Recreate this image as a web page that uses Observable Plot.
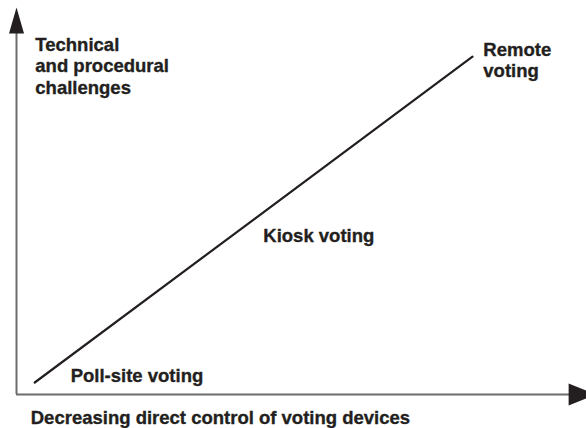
<!DOCTYPE html>
<html>
<head>
<meta charset="utf-8">
<script src="https://cdn.jsdelivr.net/npm/d3@7"></script>
<script src="https://cdn.jsdelivr.net/npm/@observablehq/plot@0.6"></script>
<style>
  html, body { margin: 0; padding: 0; background: #fff; }
  #chart svg { display: block; }
</style>
</head>
<body>
<div id="chart"></div>
<script>
// Conceptual diagram: x = decreasing direct control (0-100), y = technical/procedural challenges (0-100)
const trendX = [3.2, 80];
const trendY = [3.1, 87.3];

const labelText = ["Technical\nand procedural\nchallenges", "Remote\nvoting", "Kiosk voting", "Poll-site voting"];
const labelX = [3.3, 81.9, 43.3, 9.5];
const labelY = [92.8, 91.5, 43.4, 7.2];

const xAxisTitle = "Decreasing direct control of voting devices";
const xAxisTitleX = 2.5;
const xAxisTitleY = -4.1;

const trend = trendX.map((x, i) => ({x, y: trendY[i]}));
const labels = labelText.map((t, i) => ({t, x: labelX[i], y: labelY[i]}));

const ink = "#231f20";
const axisGrey = "#6d6d6d";
const font = "'Liberation Sans', Arial, Helvetica, sans-serif";

// filled, elongated arrowheads with their tip at the symbol origin (pointing up before rotation)
const headUp = {
  draw(ctx) {
    ctx.moveTo(0, 0);
    ctx.lineTo(7.5, 26);
    ctx.lineTo(-7.5, 26);
    ctx.closePath();
  }
};
const headRight = {
  draw(ctx) {
    ctx.moveTo(0, 0);
    ctx.lineTo(11, 27);
    ctx.lineTo(-11, 27);
    ctx.closePath();
  }
};

const chart = Plot.plot({
  width: 586,
  height: 428,
  marginLeft: 16,
  marginRight: 0,
  marginTop: 7,
  marginBottom: 34,
  x: {domain: [0, 100], axis: null},
  y: {domain: [0, 100], axis: null},
  style: {fontFamily: font, background: "#fff"},
  marks: [
    Plot.ruleX([0], {y1: 0, y2: 95, stroke: axisGrey, strokeWidth: 2}),
    Plot.ruleY([0], {x1: 0, x2: 98, stroke: axisGrey, strokeWidth: 2}),
    Plot.dot([{x: 0, y: 100}], {x: "x", y: "y", symbol: headUp, fill: ink, stroke: "none", r: 5, rotate: 0}),
    Plot.dot([{x: 101.6, y: 0}], {x: "x", y: "y", symbol: headRight, fill: ink, stroke: "none", r: 5, rotate: 90}),
    Plot.line(trend, {x: "x", y: "y", stroke: ink, strokeWidth: 2.2}),
    Plot.text(labels, {x: "x", y: "y", text: "t", textAnchor: "start", lineAnchor: "top",
      lineHeight: 1.17, fontSize: 18.5, fontWeight: "bold", fill: ink, stroke: ink, strokeWidth: 0.35}),
    Plot.text([xAxisTitle], {x: xAxisTitleX, y: xAxisTitleY, text: d => d, textAnchor: "start",
      lineAnchor: "top", fontSize: 18.5, fontWeight: "bold", fill: ink, stroke: ink, strokeWidth: 0.35})
  ]
});
document.getElementById("chart").appendChild(chart);
</script>
</body>
</html>
